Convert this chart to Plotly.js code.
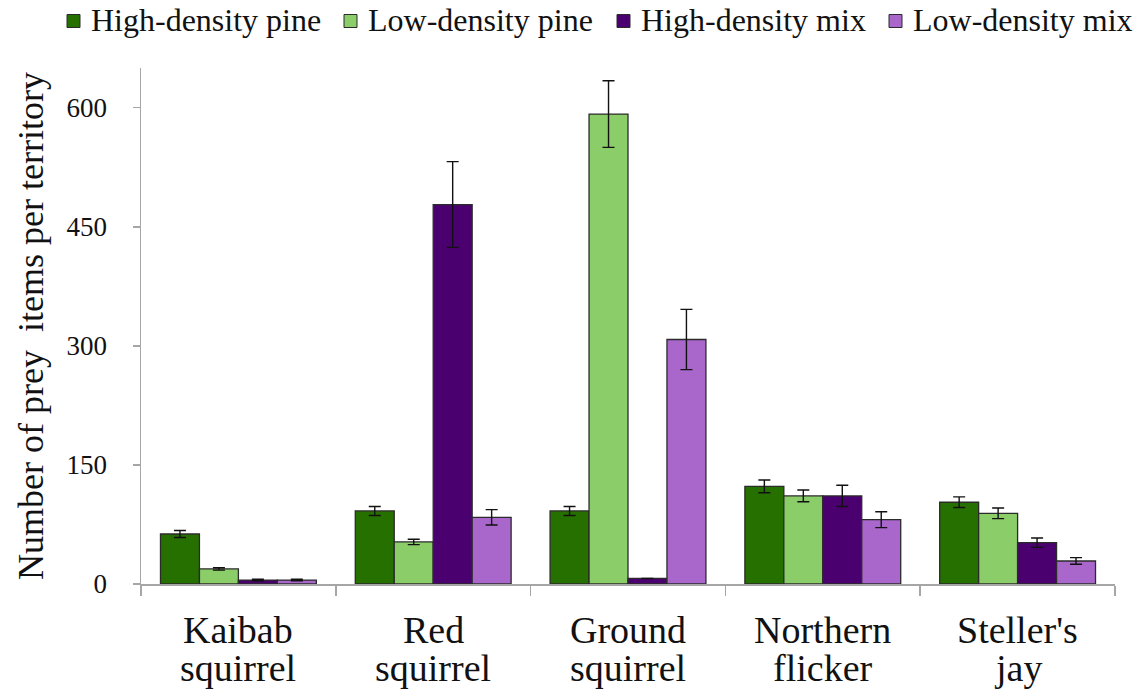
<!DOCTYPE html>
<html>
<head>
<meta charset="utf-8">
<script src="https://cdn.plot.ly/plotly-3.0.1.min.js"></script>
<style>
  html, body { margin: 0; padding: 0; background: #ffffff; }
  #chart { width: 1140px; height: 694px; }
</style>
</head>
<body>
<div id="chart"></div>
<script>
// Prey species
const categories = [
  "Kaibab squirrel",
  "Red squirrel",
  "Ground squirrel",
  "Northern flicker",
  "Steller's jay"
];

// Mean prey items per territory, by forest type
const highDensityPine = [63, 92, 92, 123, 103];
const lowDensityPine  = [19, 53, 592, 111, 89];
const highDensityMix  = [5, 478, 7, 111, 52];
const lowDensityMix   = [5, 84, 308, 81, 29];

// Standard errors
const highDensityPineErr = [4.4, 5.7, 5.7, 8, 6.7];
const lowDensityPineErr  = [1.5, 3.4, 42, 7.4, 6.7];
const highDensityMixErr  = [1, 54, 0, 13.4, 5.9];
const lowDensityMixErr   = [1, 9.7, 38, 10, 4.2];

const seriesNames  = ["High-density pine", "Low-density pine", "High-density mix", "Low-density mix"];
const seriesColors = ["#267000", "#8acd69", "#4b006f", "#a967cc"];

const values = [highDensityPine, lowDensityPine, highDensityMix, lowDensityMix];
const errors = [highDensityPineErr, lowDensityPineErr, highDensityMixErr, lowDensityMixErr];

const yTicks = [0, 150, 300, 450, 600];

const serif = '"Liberation Serif", "Times New Roman", Times, serif';

// Plot-area geometry (pixels) used to place text rows in paper units
const W = 1140, H = 694;
const M = { l: 141, r: 25, t: 68, b: 110 };
const plotW = W - M.l - M.r;
const plotH = H - M.t - M.b;
const px2paperX = px => (px - M.l) / plotW;
const py2paperY = py => (H - M.b - py) / plotH;

const traces = values.map((v, i) => ({
  type: "bar",
  name: seriesNames[i],
  x: categories,
  y: v,
  showlegend: false,
  marker: { color: seriesColors[i], line: { color: "#2b2b2b", width: 1.3 } },
  error_y: {
    type: "data",
    array: errors[i],
    visible: true,
    color: "#111111",
    thickness: 1.4,
    width: 6
  }
}));

const shapes = [];
const annotations = [];

// Legend row across the top: swatch + label per series
const legendX = [67, 344, 617, 889], swatch = 13, legendY = 20;
seriesNames.forEach((name, i) => {
  const x0 = legendX[i];
  shapes.push({
    type: "rect", xref: "paper", yref: "paper",
    x0: px2paperX(x0), x1: px2paperX(x0 + swatch),
    y0: py2paperY(legendY + swatch / 2 + 1), y1: py2paperY(legendY - swatch / 2 + 1),
    fillcolor: seriesColors[i],
    line: { color: "#2b2b2b", width: 1 }
  });
  annotations.push({
    xref: "paper", yref: "paper",
    x: px2paperX(x0 + 22), y: py2paperY(legendY),
    xanchor: "left", yanchor: "middle",
    text: name, showarrow: false,
    font: { family: serif, size: 32, color: "#111111" }
  });
});

// Two-line category labels under the axis (tight line spacing)
const catLineY = [630, 668];
categories.forEach(cat => {
  const cut = cat.indexOf(" ");
  const lines = [cat.slice(0, cut), cat.slice(cut + 1)];
  lines.forEach((txt, j) => {
    annotations.push({
      xref: "x", yref: "paper",
      x: cat, y: py2paperY(catLineY[j]),
      xanchor: "center", yanchor: "middle",
      text: txt, showarrow: false,
      font: { family: serif, size: 38, color: "#111111" }
    });
  });
});

const layout = {
  width: W,
  height: H,
  margin: M,
  paper_bgcolor: "#ffffff",
  plot_bgcolor: "#ffffff",
  barmode: "group",
  bargap: 0.2,
  bargroupgap: 0,
  font: { family: serif, color: "#111111" },
  showlegend: false,
  shapes: shapes,
  annotations: annotations,
  xaxis: {
    type: "category",
    showline: true,
    linecolor: "#a6a6a6",
    linewidth: 1.5,
    ticks: "outside",
    tickson: "boundaries",
    ticklen: 10,
    tickcolor: "#a6a6a6",
    tickwidth: 1.5,
    showticklabels: false,
    showgrid: false,
    zeroline: false
  },
  yaxis: {
    range: [0, 650],
    tickvals: yTicks,
    ticktext: yTicks.map(String),
    showline: true,
    linecolor: "#a6a6a6",
    linewidth: 1.5,
    ticks: "outside",
    ticklen: 7,
    tickcolor: "#a6a6a6",
    tickwidth: 1.5,
    ticklabelstandoff: 20,
    tickfont: { family: serif, size: 27, color: "#111111" },
    showgrid: false,
    zeroline: false,
    title: {
      text: "Number of prey  items per territory",
      font: { family: serif, size: 36, color: "#111111" },
      standoff: 12
    }
  }
};

Plotly.newPlot("chart", traces, layout, { displayModeBar: false, staticPlot: true });
</script>
</body>
</html>
